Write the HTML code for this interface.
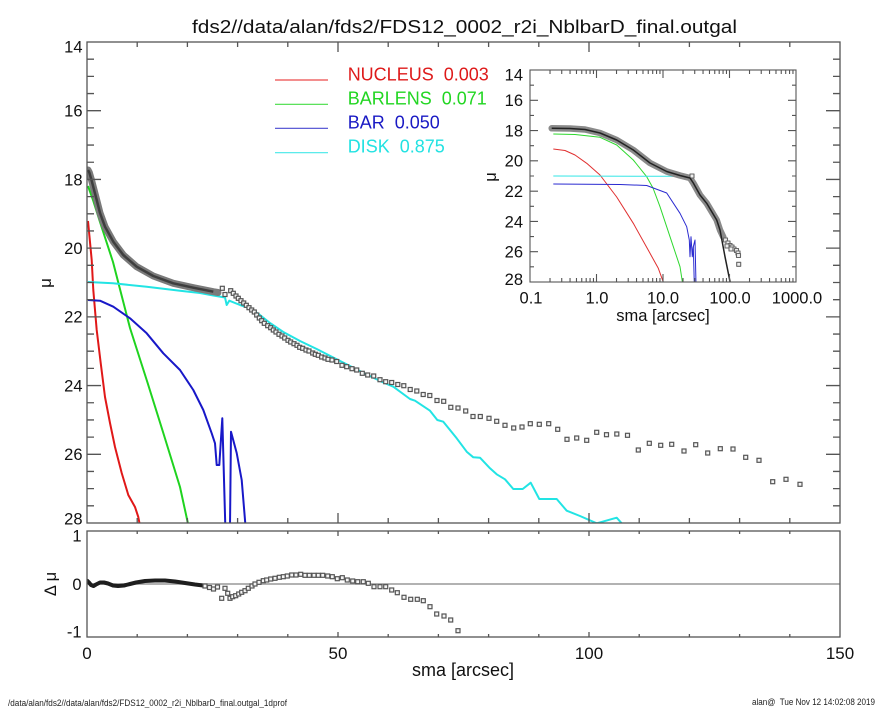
<!DOCTYPE html>
<html>
<head>
<meta charset="utf-8">
<style>
html,body{margin:0;padding:0;background:#fff;}
svg{display:block;}
text{font-family:"Liberation Sans",Arial,sans-serif;fill:#111;}
</style>
</head>
<body>
<svg width="885" height="708" viewBox="0 0 885 708" xmlns="http://www.w3.org/2000/svg">
<defs>
  <clipPath id="cm"><rect x="87" y="42" width="753" height="481"/></clipPath>
  <clipPath id="ci"><rect x="530" y="70" width="266" height="212"/></clipPath>
  <clipPath id="cr"><rect x="87" y="531" width="753" height="106"/></clipPath>
  <rect id="s" x="-2" y="-2" width="4" height="4" fill="#f4f4f4" stroke="#555" stroke-width="1.2"/>
  <rect id="q" x="-2" y="-2" width="4" height="4" fill="#eee" stroke="#666" stroke-width="1.1"/>
</defs>
<rect width="885" height="708" fill="#fff"/>

<!-- Title -->
<text x="192" y="33" font-size="18" textLength="545" lengthAdjust="spacingAndGlyphs">fds2//data/alan/fds2/FDS12_0002_r2i_NblbarD_final.outgal</text>

<!-- ================= MAIN PANEL ================= -->
<g clip-path="url(#cm)" fill="none" stroke-linejoin="round">
  <!-- components -->
  <polyline stroke="#e01818" stroke-width="2" points="88,221 91.7,260 93.3,290 96.7,330 100.7,363 105,397 110,423 115,447 121.7,473 128.3,495 135,507 138.3,517 140,526"/>
  <polyline stroke="#1fd31f" stroke-width="2" points="88,186 93,200 100,222 113,262 130,328 147,381 163,432 180,487 188.5,526"/>
  <polyline stroke="#1818c8" stroke-width="2" points="88,300 100,300.7 113.3,306.7 130,318.3 146.7,333.3 163.3,353.3 180,370 193.3,390 203.3,410 211.7,433.3 215,443.3 216.7,465 219.3,465 222.3,418.3 225.3,526"/>
  <polyline stroke="#1818c8" stroke-width="2" points="230,526 231,431.7 236.7,453 241.7,480 245.5,526"/>
  <polyline stroke="#22e4e4" stroke-width="2" points="88,282 113,283.3 146.7,286.7 180,290.7 200,293 213.3,295.5 225,297.5 226.7,305 229.3,300.7 240,305 250,308.3 260,315 270,323 283.3,332 300,341 316.7,349 333.3,357.5 350,366 366.7,374.5 383.3,382.5 393.3,386.7 410,399 415,400.7 430,410.7 437.3,420 443.3,421.7 456.7,438.3 466.7,451.7 473.3,457.3 480,457.7 490,468.3 496.7,474.3 505,479.3 513.3,489 522.7,489 530.7,482.7 539.3,499 556.7,499 566.7,510.7 580,516 596.7,523.3 616.7,517.7 622.3,524"/>
  <!-- data band -->
  <polyline stroke="#7a7a7a" stroke-width="7" stroke-linecap="round" points="88,170 89.3,172.5 91.5,180 93.3,187 96.7,200 100,213 105,226.7 113.3,241.7 123.3,255 136.7,266.7 153.3,276 173.3,283.3 193.3,287.7 213.3,291.7 218,292.5"/>
  <polyline stroke="#3e3e3e" stroke-width="2.5" points="88,170 89.3,172.5 91.5,180 93.3,187 96.7,200 100,213 105,226.7 113.3,241.7 123.3,255 136.7,266.7 153.3,276 173.3,283.3 193.3,287.7 213.3,291.7"/>
</g>
<!-- data squares -->
<g>
<use href="#s" x="222.3" y="288.3"/><use href="#s" x="225" y="294.5"/><use href="#s" x="230.7" y="290.7"/><use href="#s" x="233.3" y="293.3"/><use href="#s" x="236" y="296"/><use href="#s" x="238.3" y="298.3"/><use href="#s" x="241" y="300.7"/><use href="#s" x="243.7" y="303"/><use href="#s" x="246.3" y="305.3"/><use href="#s" x="249" y="307.7"/><use href="#s" x="251.7" y="310"/><use href="#s" x="254.3" y="312"/><use href="#s" x="256.7" y="315"/><use href="#s" x="259.3" y="318"/><use href="#s" x="261.7" y="320.7"/><use href="#s" x="264.3" y="323.3"/><use href="#s" x="267.7" y="325.7"/><use href="#s" x="270.7" y="327.7"/><use href="#s" x="273.3" y="330"/><use href="#s" x="276" y="332"/><use href="#s" x="279" y="334.3"/><use href="#s" x="282" y="336"/><use href="#s" x="284.7" y="338"/><use href="#s" x="288" y="340.3"/><use href="#s" x="290.7" y="342"/><use href="#s" x="294" y="343.7"/><use href="#s" x="297" y="345.3"/><use href="#s" x="299.7" y="347.3"/><use href="#s" x="302.7" y="348.3"/><use href="#s" x="306" y="350"/><use href="#s" x="309" y="351"/><use href="#s" x="312.7" y="353"/><use href="#s" x="315.3" y="354.3"/><use href="#s" x="318.3" y="355.3"/><use href="#s" x="321.7" y="357"/><use href="#s" x="325" y="358"/><use href="#s" x="328" y="359.3"/><use href="#s" x="332" y="360"/><use href="#s" x="336.7" y="361.5"/><use href="#s" x="342" y="365.3"/><use href="#s" x="346.7" y="366.7"/><use href="#s" x="352" y="368.7"/><use href="#s" x="356.7" y="370"/><use href="#s" x="362.3" y="373.3"/><use href="#s" x="367.7" y="375"/><use href="#s" x="373.7" y="376"/><use href="#s" x="380" y="379.7"/><use href="#s" x="385.7" y="381.7"/><use href="#s" x="391.7" y="382.5"/><use href="#s" x="397.8" y="384.5"/><use href="#s" x="403.8" y="385.7"/><use href="#s" x="410.2" y="389.5"/><use href="#s" x="416.8" y="391"/><use href="#s" x="423.2" y="394.5"/><use href="#s" x="429.8" y="395.5"/><use href="#s" x="437" y="400.5"/><use href="#s" x="443.7" y="401.3"/><use href="#s" x="450.8" y="407.3"/><use href="#s" x="458" y="408"/><use href="#s" x="465.7" y="411"/><use href="#s" x="473" y="416.5"/><use href="#s" x="480.3" y="416.5"/><use href="#s" x="489" y="418.3"/><use href="#s" x="496.7" y="421.3"/><use href="#s" x="505" y="425.3"/><use href="#s" x="513.7" y="428"/><use href="#s" x="522" y="427"/><use href="#s" x="530.3" y="423.7"/><use href="#s" x="539.3" y="424.3"/><use href="#s" x="548.7" y="423.7"/><use href="#s" x="557.7" y="429.3"/><use href="#s" x="567" y="439.3"/><use href="#s" x="576.7" y="438"/><use href="#s" x="586.7" y="440.3"/><use href="#s" x="596.7" y="432.3"/><use href="#s" x="606.5" y="434.7"/><use href="#s" x="616.8" y="434"/><use href="#s" x="627.5" y="435.3"/><use href="#s" x="638.3" y="450"/><use href="#s" x="649.3" y="443.3"/><use href="#s" x="660.7" y="445.3"/><use href="#s" x="671.7" y="444.3"/><use href="#s" x="684" y="451"/><use href="#s" x="695.7" y="444.7"/><use href="#s" x="707.7" y="453"/><use href="#s" x="720.3" y="448.7"/><use href="#s" x="733" y="449"/><use href="#s" x="745.7" y="457.3"/><use href="#s" x="759" y="460.3"/><use href="#s" x="772.7" y="481.7"/><use href="#s" x="786" y="479.3"/><use href="#s" x="800" y="484.3"/>
</g>

<!-- main frame & ticks -->
<g fill="none" stroke="#555" stroke-width="1.3">
  <rect x="87" y="42" width="753" height="481"/>
  <path d="M87 110.71h14M87 179.43h14M87 248.14h14M87 316.86h14M87 385.57h14M87 454.29h14M840 110.71h-14M840 179.43h-14M840 248.14h-14M840 316.86h-14M840 385.57h-14M840 454.29h-14"/>
  <path d="M87 59.18h7M87 76.36h7M87 93.54h7M87 127.89h7M87 145.07h7M87 162.25h7M87 196.61h7M87 213.79h7M87 230.96h7M87 265.32h7M87 282.5h7M87 299.68h7M87 334.04h7M87 351.21h7M87 368.39h7M87 402.75h7M87 419.93h7M87 437.11h7M87 471.46h7M87 488.64h7M87 505.82h7M840 59.18h-7M840 76.36h-7M840 93.54h-7M840 127.89h-7M840 145.07h-7M840 162.25h-7M840 196.61h-7M840 213.79h-7M840 230.96h-7M840 265.32h-7M840 282.5h-7M840 299.68h-7M840 334.04h-7M840 351.21h-7M840 368.39h-7M840 402.75h-7M840 419.93h-7M840 437.11h-7M840 471.46h-7M840 488.64h-7M840 505.82h-7"/>
  <path d="M338 523v-10M589 523v-10M338 42v10M589 42v10M137.2 523v-5M187.4 523v-5M237.6 523v-5M287.8 523v-5M388.2 523v-5M438.4 523v-5M488.6 523v-5M538.8 523v-5M639.2 523v-5M689.4 523v-5M739.6 523v-5M789.8 523v-5M137.2 42v5M187.4 42v5M237.6 42v5M287.8 42v5M388.2 42v5M438.4 42v5M488.6 42v5M538.8 42v5M639.2 42v5M689.4 42v5M739.6 42v5M789.8 42v5"/>
</g>

<!-- main y labels -->
<g font-size="16.5" text-anchor="end">
  <text x="82.5" y="52.5">14</text>
  <text x="82.5" y="116.5">16</text>
  <text x="82.5" y="185.3">18</text>
  <text x="82.5" y="254">20</text>
  <text x="82.5" y="322.7">22</text>
  <text x="82.5" y="391.4">24</text>
  <text x="82.5" y="460.1">26</text>
  <text x="82.5" y="524.5">28</text>
</g>
<text transform="translate(51,283) rotate(-90)" font-size="17" text-anchor="middle">μ</text>

<!-- legend -->
<g stroke-width="1.2">
  <line x1="275" y1="80" x2="328" y2="80" stroke="#ec4a4a"/>
  <line x1="275" y1="104.3" x2="328" y2="104.3" stroke="#44dd44"/>
  <line x1="275" y1="128.3" x2="328" y2="128.3" stroke="#4848d0"/>
  <line x1="275" y1="152.7" x2="328" y2="152.7" stroke="#44e8e8"/>
</g>
<g font-size="18" style="white-space:pre">
  <text x="347.7" y="80.5" style="fill:#de1a1a;white-space:pre">NUCLEUS  0.003</text>
  <text x="347.7" y="104.5" style="fill:#22d622;white-space:pre">BARLENS  0.071</text>
  <text x="347.7" y="128.5" style="fill:#1a1ac4;white-space:pre">BAR  0.050</text>
  <text x="347.7" y="152.7" style="fill:#22e2e2;white-space:pre">DISK  0.875</text>
</g>

<!-- ================= INSET ================= -->
<rect x="530" y="70" width="266" height="212" fill="#fff"/>
<g clip-path="url(#ci)" fill="none" stroke-linejoin="round">
  <polyline stroke="#e03030" stroke-width="1" points="553.3,149 565,150.5 575,155 586.7,163.3 600,175 616.7,197 633.3,223.3 650,253.3 658.3,268.3 664,284"/>
  <polyline stroke="#2ed82e" stroke-width="1" points="553.3,134 575,134.5 600,137.3 616.7,145 633.3,160 646.7,176.7 653,188 660,206.7 670,236.7 680,266.7 682.7,284"/>
  <polyline stroke="#2a2ad0" stroke-width="1" points="553.3,184 620,184.5 646.7,185.5 666.7,193 680,213.3 686.7,226.7 689.3,240 690,256.7 691,236.7 692.3,256.7 693.3,246.7 694.3,284"/>
  <polyline stroke="#2a2ad0" stroke-width="1" points="692.5,250 695,240 696,284"/>
  <polyline stroke="#33e6e6" stroke-width="1" points="553.3,176 670,176.3 690,177"/>
  <polyline stroke="#8a8a8a" stroke-width="6.5" stroke-linecap="round" points="551.7,128.3 570,128.5 585,129.5 600,133 616.7,140 633.3,150 650,163 666.7,171.5 680,175.5 690,178 693.3,183 700,195 706.7,203.3 716.7,220 720,230 723.3,237"/>
  <g>
    <use href="#q" x="725.5" y="240"/><use href="#q" x="728" y="243"/><use href="#q" x="730" y="245.5"/><use href="#q" x="732" y="247"/><use href="#q" x="734" y="249"/><use href="#q" x="736.5" y="250.5"/><use href="#q" x="738" y="253"/><use href="#q" x="738.5" y="255.5"/><use href="#q" x="727" y="246"/><use href="#q" x="731" y="249"/><use href="#q" x="738.7" y="264.3"/><use href="#q" x="692" y="176"/>
  </g>
  <polyline stroke="#222" stroke-width="1.5" points="551.7,128.3 570,128.5 585,129.5 600,133 616.7,140 633.3,150 650,163 666.7,171.5 680,175.5 690,178 693.3,183 700,195 706.7,203.3 716.7,220 720,230 725,256.7 730.5,284"/>
</g>
<g fill="none" stroke="#555" stroke-width="1.1">
  <rect x="530" y="70" width="266" height="212"/>
  <path d="M530 100.29h8M530 130.57h8M530 160.86h8M530 191.14h8M530 221.43h8M530 251.71h8M796 100.29h-8M796 130.57h-8M796 160.86h-8M796 191.14h-8M796 221.43h-8M796 251.71h-8M530 85.14h4M530 115.43h4M530 145.71h4M530 176h4M530 206.29h4M530 236.57h4M530 266.86h4M796 85.14h-4M796 115.43h-4M796 145.71h-4M796 176h-4M796 206.29h-4M796 236.57h-4M796 266.86h-4"/>
  <path d="M596.5 282v-8M663 282v-8M729.5 282v-8M596.5 70v8M663 70v8M729.5 70v8"/>
  <path d="M550.02 282v-4M561.73 282v-4M570.04 282v-4M576.48 282v-4M581.75 282v-4M586.2 282v-4M590.06 282v-4M593.46 282v-4M616.52 282v-4M628.23 282v-4M636.54 282v-4M642.98 282v-4M648.25 282v-4M652.7 282v-4M656.56 282v-4M659.96 282v-4M683.02 282v-4M694.73 282v-4M703.04 282v-4M709.48 282v-4M714.75 282v-4M719.2 282v-4M723.06 282v-4M726.46 282v-4M749.52 282v-4M761.23 282v-4M769.54 282v-4M775.98 282v-4M781.25 282v-4M785.7 282v-4M789.56 282v-4M792.96 282v-4"/>
  <path d="M550.02 70v4M561.73 70v4M570.04 70v4M576.48 70v4M581.75 70v4M586.2 70v4M590.06 70v4M593.46 70v4M616.52 70v4M628.23 70v4M636.54 70v4M642.98 70v4M648.25 70v4M652.7 70v4M656.56 70v4M659.96 70v4M683.02 70v4M694.73 70v4M703.04 70v4M709.48 70v4M714.75 70v4M719.2 70v4M723.06 70v4M726.46 70v4M749.52 70v4M761.23 70v4M769.54 70v4M775.98 70v4M781.25 70v4M785.7 70v4M789.56 70v4M792.96 70v4"/>
</g>
<g font-size="16.5" text-anchor="end">
  <text x="523" y="80.5">14</text>
  <text x="523" y="106">16</text>
  <text x="523" y="136.4">18</text>
  <text x="523" y="166.7">20</text>
  <text x="523" y="197">22</text>
  <text x="523" y="227.3">24</text>
  <text x="523" y="257.6">26</text>
  <text x="523" y="285">28</text>
</g>
<text transform="translate(496,177) rotate(-90)" font-size="16.5" text-anchor="middle">μ</text>
<g font-size="16.5" text-anchor="middle">
  <text x="531" y="303.5">0.1</text>
  <text x="597" y="303.5">1.0</text>
  <text x="663" y="303.5">10.0</text>
  <text x="730" y="303.5">100.0</text>
  <text x="797" y="303.5">1000.0</text>
  <text x="663" y="321">sma [arcsec]</text>
</g>

<!-- ================= RESIDUAL PANEL ================= -->
<g clip-path="url(#cr)">
  <line x1="87" y1="584" x2="840" y2="584" stroke="#999" stroke-width="1.5"/>
  <polyline fill="none" stroke="#1e1e1e" stroke-width="4" stroke-linecap="round" stroke-linejoin="round" points="87.5,581 89,582.5 91,585 93.5,586 96,584.5 100,582.5 104,582.5 108,583.5 113,585.5 118,586 124,585.5 130,584 136,582.5 145,581 155,580.5 165,580.5 175,581.5 185,583 195,584.5 203,585.5"/>
  <use href="#s" x="205" y="586"/><use href="#s" x="209.5" y="587.5"/><use href="#s" x="213.5" y="589"/><use href="#s" x="217.5" y="587"/><use href="#s" x="221.7" y="598.3"/><use href="#s" x="225" y="588.3"/><use href="#s" x="227.7" y="593.3"/><use href="#s" x="230" y="598.3"/><use href="#s" x="232.7" y="596.7"/><use href="#s" x="235.7" y="595.7"/><use href="#s" x="238.7" y="594"/><use href="#s" x="241.7" y="592.3"/><use href="#s" x="245" y="590.7"/><use href="#s" x="248.3" y="588.3"/><use href="#s" x="252" y="586"/><use href="#s" x="255" y="584"/><use href="#s" x="259" y="582.3"/><use href="#s" x="263.3" y="580.7"/><use href="#s" x="266.7" y="580"/><use href="#s" x="270.7" y="579"/><use href="#s" x="275" y="578.3"/><use href="#s" x="279.3" y="577.3"/><use href="#s" x="283.3" y="576.7"/><use href="#s" x="287.3" y="576"/><use href="#s" x="291.7" y="575"/><use href="#s" x="296" y="575"/><use href="#s" x="300.7" y="574.3"/><use href="#s" x="305" y="575.3"/><use href="#s" x="309.3" y="575.3"/><use href="#s" x="314" y="575.3"/><use href="#s" x="318.3" y="575.3"/><use href="#s" x="322.7" y="575.3"/><use href="#s" x="327.7" y="576"/><use href="#s" x="332.3" y="576.7"/><use href="#s" x="337.3" y="578.7"/><use href="#s" x="342.3" y="577.7"/><use href="#s" x="347.3" y="580"/><use href="#s" x="352.7" y="581"/><use href="#s" x="357.7" y="581.7"/><use href="#s" x="363.3" y="581.7"/><use href="#s" x="368.3" y="583.3"/><use href="#s" x="374" y="586.7"/><use href="#s" x="380" y="586.7"/><use href="#s" x="385.7" y="586.7"/><use href="#s" x="391.7" y="590"/><use href="#s" x="397.3" y="592.7"/><use href="#s" x="404" y="597.3"/><use href="#s" x="410.7" y="599.3"/><use href="#s" x="417.3" y="599.3"/><use href="#s" x="423.3" y="600.7"/><use href="#s" x="430" y="606.7"/><use href="#s" x="436.7" y="614"/><use href="#s" x="444" y="616"/><use href="#s" x="450.7" y="620"/><use href="#s" x="458" y="630.7"/>
</g>
<g fill="none" stroke="#555" stroke-width="1.3">
  <rect x="87" y="531" width="753" height="106"/>
  <path d="M137.2 637v-3M187.4 637v-3M237.6 637v-3M287.8 637v-3M338 637v-5M388.2 637v-3M438.4 637v-3M488.6 637v-3M538.8 637v-3M589 637v-5M639.2 637v-3M689.4 637v-3M739.6 637v-3M789.8 637v-3M137.2 531v3M187.4 531v3M237.6 531v3M287.8 531v3M338 531v5M388.2 531v3M438.4 531v3M488.6 531v3M538.8 531v3M589 531v5M639.2 531v3M689.4 531v3M739.6 531v3M789.8 531v3"/>
</g>
<g font-size="16.5" text-anchor="end">
  <text x="81.5" y="541.5">1</text>
  <text x="81.5" y="590">0</text>
  <text x="81.5" y="637.5">-1</text>
</g>
<text transform="translate(56,584) rotate(-90)" font-size="16.5" text-anchor="middle" style="white-space:pre">Δ μ</text>

<!-- x labels -->
<g font-size="17" text-anchor="middle">
  <text x="87" y="659">0</text>
  <text x="338" y="659">50</text>
  <text x="589" y="659">100</text>
  <text x="840" y="659">150</text>
</g>
<text x="463" y="676" font-size="18" text-anchor="middle">sma [arcsec]</text>

<!-- footer -->
<text x="8" y="706" font-size="9" textLength="279" lengthAdjust="spacingAndGlyphs" style="fill:#222">/data/alan/fds2//data/alan/fds2/FDS12_0002_r2i_NblbarD_final.outgal_1dprof</text>
<text x="752" y="705" font-size="9" textLength="123" lengthAdjust="spacingAndGlyphs" style="fill:#222;white-space:pre">alan@  Tue Nov 12 14:02:08 2019</text>
</svg>
</body>
</html>
